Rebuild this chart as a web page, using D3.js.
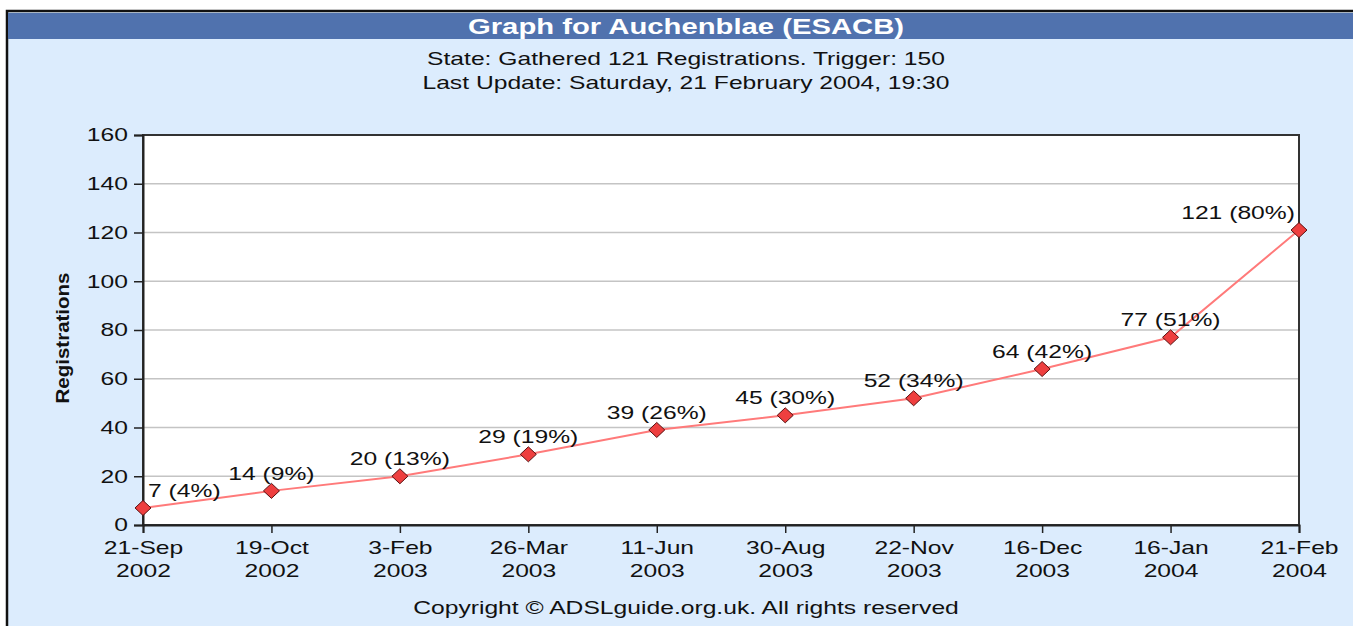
<!DOCTYPE html>
<html>
<head>
<meta charset="utf-8">
<script src="https://cdn.jsdelivr.net/npm/d3@7"></script>
<style>
  body { margin: 0; background: #fff; }
  text { font-family: "Liberation Sans", Arial, sans-serif; }
</style>
</head>
<body>
<div id="viz"></div>
<script>
// chart values
var dates = ["21-Sep 2002", "19-Oct 2002", "3-Feb 2003", "26-Mar 2003", "11-Jun 2003",
             "30-Aug 2003", "22-Nov 2003", "16-Dec 2003", "16-Jan 2004", "21-Feb 2004"];
var registrations = [7, 14, 20, 29, 39, 45, 52, 64, 77, 121];
var percents = [4, 9, 13, 19, 26, 30, 34, 42, 51, 80];
var yTicks = [0, 20, 40, 60, 80, 100, 120, 140, 160];

var title = "Graph for Auchenblae (ESACB)";
var subtitles = ["State: Gathered 121 Registrations. Trigger: 150",
                 "Last Update: Saturday, 21 February 2004, 19:30"];
var copyright = "Copyright \u00a9 ADSLguide.org.uk. All rights reserved";

var data = dates.map(function(d, i){
  return {date: d, value: registrations[i], pct: percents[i]};
});

var W = 1353, H = 626;
var sx = 1.37; // the original text is drawn wide
var margin = {top: 135, right: 54, bottom: 101, left: 143},
  width = W - margin.left - margin.right,
  height = H - margin.top - margin.bottom;

// draw a text stretched sideways around its own anchor point
function wide(parent, px, py, k){
  return parent.append("text")
    .attr("transform", "translate(" + px + "," + py + ") scale(" + k + ",1)");
}

var svg = d3.select("#viz").append("svg")
  .attr("width", W)
  .attr("height", H);

// panel background + frame
svg.append("rect")
  .attr("x", 7).attr("y", 11).attr("width", W).attr("height", H)
  .attr("fill", "#dcecfd").attr("stroke", "#111").attr("stroke-width", 2.5);

svg.append("rect")
  .attr("x", 8).attr("y", 13).attr("width", W).attr("height", 26)
  .attr("fill", "#5072ae");

wide(svg, 686, 34, 1.33)
  .attr("text-anchor", "middle")
  .attr("fill", "#fff")
  .style("font-weight", "bold")
  .style("font-size", "22px")
  .text(title);

subtitles.forEach(function(s, i){
  wide(svg, 686, 65 + i * 24, sx)
    .attr("text-anchor", "middle")
    .attr("fill", "#111")
    .style("font-size", "18px")
    .text(s);
});

var g = svg.append("g")
  .attr("transform", "translate(" + margin.left + "," + margin.top + ")");

var x = d3.scalePoint()
  .domain(dates)
  .range([0, width]);

var y = d3.scaleLinear()
  .domain([0, 160])
  .range([height, 0]);

g.append("rect")
  .attr("width", width).attr("height", height)
  .attr("fill", "#fff");

// gridlines
g.selectAll(".grid")
  .data(yTicks.slice(1, -1))
  .enter().append("line")
  .attr("x1", 0).attr("x2", width)
  .attr("y1", function(d){ return y(d) })
  .attr("y2", function(d){ return y(d) })
  .attr("stroke", "#c4c4c4")
  .attr("stroke-width", 1.5);

// frame
g.append("rect")
  .attr("width", width).attr("height", height)
  .attr("fill", "none")
  .attr("stroke", "#333")
  .attr("stroke-width", 2);

var yAxis = g.append("g")
  .call(d3.axisLeft(y).tickValues(yTicks).tickSize(9).tickPadding(4));
yAxis.select(".domain").attr("stroke", "#222").attr("stroke-width", 2);
yAxis.selectAll(".tick line").attr("stroke", "#222").attr("stroke-width", 1.5);
yAxis.selectAll(".tick text")
  .attr("x", -15 / sx)
  .attr("transform", "scale(" + sx + ",1)")
  .attr("fill", "#111")
  .style("font-size", "18px")
  .style("font-family", "'Liberation Sans', Arial, sans-serif");

var xAxis = g.append("g")
  .attr("transform", "translate(0," + height + ")")
  .call(d3.axisBottom(x).tickSize(8).tickPadding(8));
xAxis.select(".domain").attr("stroke", "#222").attr("stroke-width", 2);
xAxis.selectAll(".tick line").attr("stroke", "#222").attr("stroke-width", 1.5);
xAxis.selectAll(".tick text").each(function(d){
  var parts = d.split(" ");
  var t = d3.select(this).text(null)
    .attr("transform", "scale(" + sx + ",1)")
    .attr("fill", "#111")
    .style("font-size", "18px")
    .style("font-family", "'Liberation Sans', Arial, sans-serif");
  t.append("tspan").attr("x", 0).attr("dy", "0.71em").text(parts[0]);
  t.append("tspan").attr("x", 0).attr("dy", "1.3em").text(parts[1]);
});

svg.append("text")
  .attr("transform", "translate(69," + (margin.top + height / 2 + 8) + ") rotate(-90) scale(1.08,1)")
  .attr("text-anchor", "middle")
  .attr("fill", "#111")
  .style("font-weight", "bold")
  .style("font-size", "19px")
  .text("Registrations");

var line = d3.line()
  .x(function(d){ return x(d.date) })
  .y(function(d){ return y(d.value) });

g.append("path")
  .datum(data)
  .attr("d", line)
  .attr("fill", "none")
  .attr("stroke", "#ff7a7a")
  .attr("stroke-width", 2);

g.selectAll(".pt")
  .data(data)
  .enter().append("path")
  .attr("d", "M0,-7.5L8,0L0,7.5L-8,0Z")
  .attr("transform", function(d){ return "translate(" + x(d.date) + "," + y(d.value) + ")" })
  .attr("fill", "#ee3f3f")
  .attr("stroke", "#5a1010")
  .attr("stroke-width", 1);

// point labels, kept inside the plot
data.forEach(function(d){
  var t = g.append("text")
    .attr("fill", "#111")
    .style("font-size", "18px")
    .text(d.value + " (" + d.pct + "%)");
  var w = t.node().getComputedTextLength() * sx;
  var left = x(d.date) - w / 2;
  left = Math.max(5, Math.min(width - 4 - w, left));
  t.attr("transform", "translate(" + left + "," + (y(d.value) - 11) + ") scale(" + sx + ",1)");
});

wide(svg, 686, 614, sx)
  .attr("text-anchor", "middle")
  .attr("fill", "#111")
  .style("font-size", "18px")
  .text(copyright);
</script>
</body>
</html>
